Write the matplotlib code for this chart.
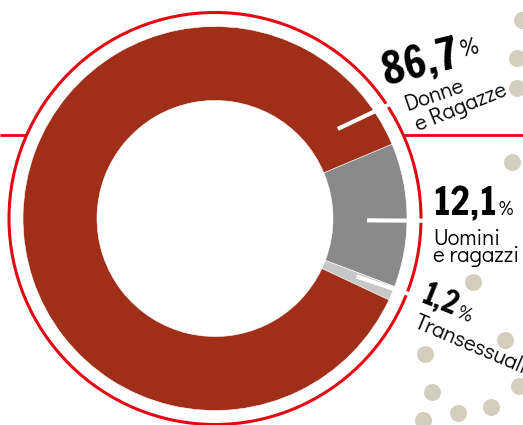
import numpy as np
import matplotlib
matplotlib.use('Agg')
import matplotlib.pyplot as plt
from matplotlib.patches import Circle

# data
categories = ['Uomini\ne ragazzi', 'Transessuali', 'Donne\ne Ragazze']
values = [12.1, 1.2, 86.7]
colors = ['#8a8a8a', '#c8c8c8', '#a02f1a']

# decorative dots (pixel coords, y from top)
dot_x = [522, 517, 517, 512, 473, 505, 425, 519, 432, 491, 458, 423]
dot_y = [20, 58, 88, 162, 282, 340, 354, 386, 392, 407, 413, 420]

W, H = 523, 425
RED = '#e30613'
cx, cy = 215, H - 218.5
R_OUT, R_IN, R_RING = 192, 118, 206

num_font = ['Francois One', 'Fjalla One', 'DejaVu Sans']
lab_font = ['Didact Gothic', 'Jost', 'DejaVu Sans']


def polar(ang, r):
    a = np.radians(ang)
    return cx + r * np.cos(a), cy + r * np.sin(a)


def fmt(v):
    return f'{v:.1f}'.replace('.', ',')


fig = plt.figure(figsize=(W / 100, H / 100), dpi=100)
ax = fig.add_axes([0, 0, 1, 1])
renderer = fig.canvas.get_renderer()

# horizontal red rule behind the ring
ax.plot([0, W], [H - 135, H - 135], color=RED, lw=2.0, zorder=1, solid_capstyle='butt')
ax.add_patch(Circle((cx, cy), R_RING, facecolor='white', edgecolor=RED, lw=2.2, zorder=2))

ax.pie(values, colors=colors, startangle=22.8, counterclock=False,
       center=(cx, cy), radius=R_OUT,
       wedgeprops=dict(width=R_OUT - R_IN, edgecolor='white', linewidth=0.4, zorder=3))

# pie() resets the limits, so set them after it
ax.set_xlim(0, W)
ax.set_ylim(0, H)
ax.set_aspect('equal')
ax.axis('off')

# white leader lines (cut through the ring)
leaders = [((36.1, 152), (33.0, 214)), ((-0.7, 152), (-0.6, 214)), ((-22.3, 153), (-21.2, 214))]
for (a0, r0), (a1, r1) in leaders:
    x0, y0 = polar(a0, r0)
    x1, y1 = polar(a1, r1)
    ax.plot([x0, x1], [y0, y1], color='white', lw=3, zorder=5, solid_capstyle='butt')

ax.scatter(dot_x, [H - y for y in dot_y], s=150, color='#d4cebe', lw=0, zorder=1)

txt = dict(rotation_mode='anchor', ha='left', va='baseline', zorder=6)


def num_label(x, y, value, size, pct_size, rot, lift=0, gap=2):
    s = fmt(value)
    tmp = fig.text(0, 0, s, fontsize=size, family=num_font)
    w = tmp.get_window_extent(renderer).width
    tmp.remove()
    ax.text(x, H - y, s, rotation=rot, fontsize=size, family=num_font, **txt)
    a = np.radians(rot)
    px = x + (w + gap) * np.cos(a) - lift * np.sin(a)
    py = H - y + (w + gap) * np.sin(a) + lift * np.cos(a)
    ax.text(px, py, '%', rotation=rot, fontsize=pct_size, family=lab_font, **txt)


# 86,7 donne
num_label(385, 85, values[2], 32, 17, 14, lift=9)
l1, l2 = categories[2].split('\n')
ax.text(407, H - 111, l1, rotation=19, fontsize=16, family=lab_font, **txt)
ax.text(418, H - 131, l2, rotation=22, fontsize=16, family=lab_font, **txt)

# 12,1 uomini
num_label(432, 215, values[0], 28, 14, 0)
l1, l2 = categories[0].split('\n')
ax.text(433, H - 245, l1, fontsize=16, family=lab_font, **txt)
ax.text(433, H - 262, l2, fontsize=16, family=lab_font, **txt)

# 1,2 transessuali
num_label(419, 302, values[1], 22, 14, -22)
ax.text(413, H - 327, categories[1], rotation=-23, fontsize=16, family=lab_font, **txt)

fig.savefig('out.png', dpi=100)
